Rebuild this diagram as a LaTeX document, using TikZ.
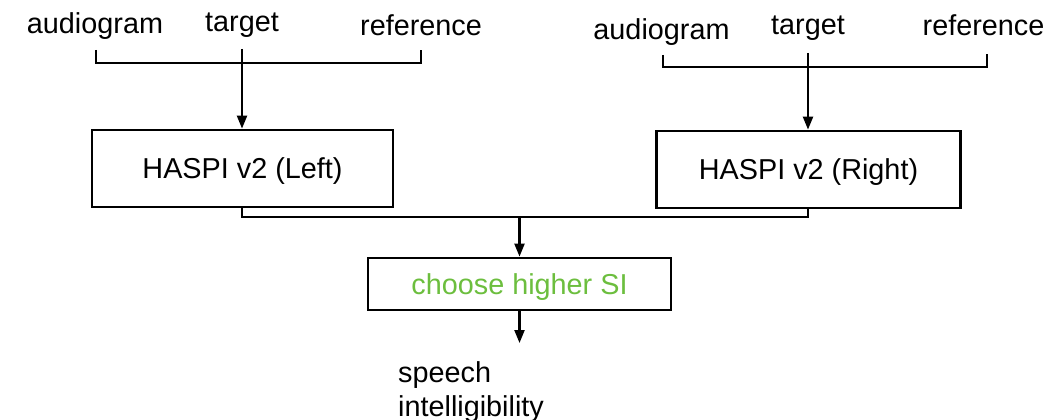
\documentclass[tikz,border=0pt]{standalone}
\usepackage{fontspec}
\setmainfont{Liberation Sans}
\usetikzlibrary{arrows.meta}
\definecolor{pickgreen}{RGB}{108,190,62}
\tikzset{
  lbl/.style={font=\fontsize{28.8}{34}\selectfont, inner sep=0pt, anchor=base},
  blk/.style={draw, line width=2.8pt, font=\fontsize{28.8}{34}\selectfont,
              inner sep=0pt, text height=20.8pt, text depth=0pt},
  wire/.style={line width=2.2pt},
  flow/.style={wire, -{Triangle[length=13pt,width=10pt]}},
}
\begin{document}
\begin{tikzpicture}[x=1pt,y=-1pt]
\useasboundingbox (0,0) rectangle (1049,420);

% inputs, left ear
\node[lbl] (audL) at (95,34) {audiogram};
\node[lbl] (tgtL) at (242,32) {target};
\node[lbl] (refL) at (421,36) {reference};
% inputs, right ear
\node[lbl] (audR) at (661.5,40) {audiogram};
\node[lbl] (tgtR) at (808,35) {target};
\node[lbl] (refR) at (983.5,36) {reference};

% processing blocks
\node[blk, minimum width=301pt, minimum height=77pt] (hL) at (242.5,168.5) {HASPI v2 (Left)};
\node[blk, minimum width=304pt, minimum height=77pt] (hR) at (808.5,169.5) {HASPI v2 (Right)};
\node[blk, minimum width=303pt, minimum height=52pt, text=pickgreen] (pick) at (519.5,284) {choose higher SI};

% output label
\node[lbl, anchor=base west] (out1) at (398,382) {speech};
\node[lbl, anchor=base west] (out2) at (398,416) {intelligibility};

% bracket tick points
\coordinate (aLt) at (96,50);   \coordinate (aLb) at (96,63);
\coordinate (rLt) at (421,50);  \coordinate (rLb) at (421,63);
\coordinate (tLt) at (242,49);
\coordinate (aRt) at (663,55);  \coordinate (aRb) at (663,67);
\coordinate (rRt) at (987,54);  \coordinate (rRb) at (987,67);
\coordinate (tRt) at (808,53);
% merge points
\coordinate (mL) at (242,217);
\coordinate (mR) at (808,217);
\coordinate (mC) at (519.5,217);
\coordinate (oEnd) at (519.5,343);

% input brackets
\draw[wire] (aLt) -- (aLb) -- (rLb) -- (rLt);
\draw[wire] (aRt) -- (aRb) -- (rRb) -- (rRt);
\draw[flow] (tLt) -- (hL.north -| tLt);
\draw[flow] (tRt) -- (hR.north -| tRt);

% merge of both ears
\draw[wire] (hL.south -| mL) -- (mL) -- (mR) -- (hR.south -| mR);
\draw[flow] (mC) -- (pick.north);
\draw[flow] (pick.south) -- (oEnd);
\end{tikzpicture}
\end{document}
